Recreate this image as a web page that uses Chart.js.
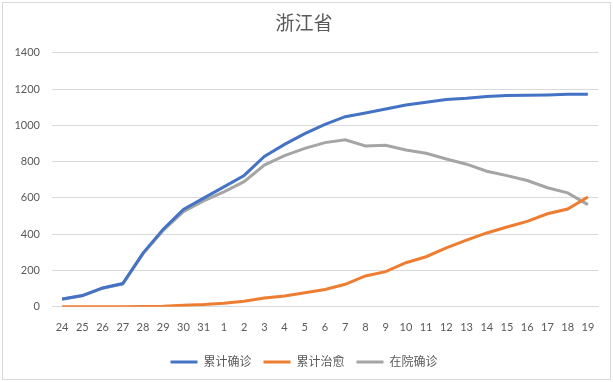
<!DOCTYPE html>
<html>
<head>
<meta charset="utf-8">
<script src="https://cdn.jsdelivr.net/npm/chart.js@4"></script>
<style>
html,body{margin:0;padding:0;background:#fff;}
#wrap{position:absolute;left:0;top:0;width:613px;height:382px;}
</style>
</head>
<body>
<div id="wrap"><canvas id="c" width="613" height="382"></canvas></div>
<script>
const categories = ['24','25','26','27','28','29','30','31','1','2','3','4','5','6','7','8','9','10','11','12','13','14','15','16','17','18','19'];
const confirmed = [43,62,104,128,296,428,537,599,661,724,829,895,954,1006,1048,1068,1090,1112,1128,1143,1149,1159,1165,1166,1168,1171,1171];
const healed = [0,0,0,0,1,3,9,13,20,31,48,60,78,95,124,170,194,243,276,325,367,407,440,471,513,539,605];
const inHospital = [42,61,102,126,292,421,524,584,633,690,781,833,873,905,920,886,890,864,846,815,786,747,723,696,656,628,563];
const yTicks = [0,200,400,600,800,1000,1200,1400];
const seriesNames = ['累计确诊','累计治愈','在院确诊'];
const titleText = '浙江省';

const FONT = "Lato, 'Noto Sans CJK SC', sans-serif";
const TXT = '#595959';

const borderPlugin = {
  id: 'frame',
  beforeDraw(chart) {
    const ctx = chart.ctx;
    ctx.save();
    ctx.fillStyle = '#fff';
    ctx.fillRect(0, 0, chart.width, chart.height);
    ctx.strokeStyle = '#d9d9d9';
    ctx.lineWidth = 1;
    ctx.strokeRect(2.5, 2.5, 608, 377);
    ctx.restore();
  }
};

function ds(label, data, color) {
  return {
    label, data,
    borderColor: color,
    backgroundColor: color,
    borderWidth: 3,
    pointRadius: 0,
    pointHoverRadius: 0,
    tension: 0,
    fill: false,
    pointStyle: 'line'
  };
}

new Chart(document.getElementById('c'), {
  type: 'line',
  data: {
    labels: categories,
    datasets: [
      ds(seriesNames[0], confirmed, '#4472C4'),
      ds(seriesNames[1], healed, '#ED7D31'),
      ds(seriesNames[2], inHospital, '#A5A5A5')
    ]
  },
  options: {
    responsive: false,
    animation: false,
    layout: { padding: { left: 10, right: 15, top: 8, bottom: 4 } },
    plugins: {
      title: {
        display: true,
        text: titleText,
        color: TXT,
        font: { family: FONT, size: 19, weight: 'normal' },
        padding: { top: 4, bottom: 18 }
      },
      legend: {
        position: 'bottom',
        labels: {
          usePointStyle: true,
          pointStyle: 'line',
          pointStyleWidth: 27,
          color: TXT,
          font: { family: FONT, size: 12 },
          padding: 12
        }
      },
      tooltip: { enabled: false }
    },
    scales: {
      x: {
        offset: true,
        afterFit(scale) { scale.height -= 4; },
        grid: { display: false, drawTicks: false },
        border: { display: true, color: '#d9d9d9', width: 1 },
        ticks: { color: TXT, font: { family: FONT, size: 11 }, maxRotation: 0, autoSkip: false, padding: 14 }
      },
      y: {
        min: 0, max: 1400,
        afterBuildTicks(scale) { scale.ticks = yTicks.map(v => ({ value: v })); },
        afterFit(scale) { scale.width = 42; },
        grid: { color: '#d9d9d9', drawTicks: false },
        border: { display: false },
        ticks: { color: TXT, font: { family: FONT, size: 11 }, padding: 12, callback: v => String(v) }
      }
    }
  },
  plugins: [borderPlugin]
});
</script>
</body>
</html>
